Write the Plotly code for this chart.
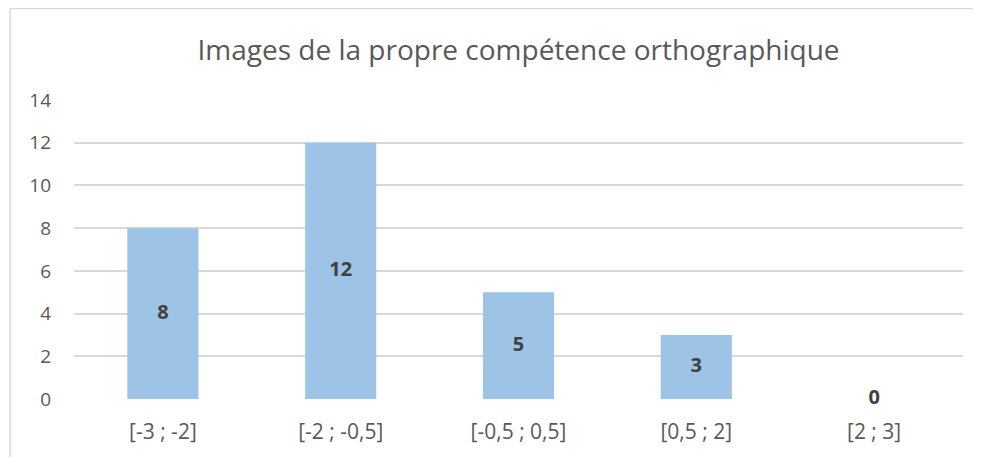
import plotly.graph_objects as go

# Données
categories = ["[-3 ; -2]", "[-2 ; -0,5]", "[-0,5 ; 0,5]", "[0,5 ; 2]", "[2 ; 3]"]
valeurs = [8, 12, 5, 3, 0]
y_ticks = [0, 2, 4, 6, 8, 10, 12, 14]

fig = go.Figure()

fig.add_trace(go.Bar(
    x=categories, y=valeurs,
    marker=dict(color="#9DC3E6", line=dict(width=0)),
    width=0.4, hoverinfo="skip"
))

# étiquettes au centre des barres
fig.add_trace(go.Scatter(
    x=categories, y=[v / 2 for v in valeurs],
    mode="text", text=[str(v) for v in valeurs],
    textfont=dict(family="Open Sans", size=20, color="#404040", weight="bold"),
    cliponaxis=False, hoverinfo="skip"
))

# la page html a une marge de 8px -> on décale tout
W, H = 981 - 8, 457 - 8
L, R, T, B = 66, 18, 92, 58
pw, ph = W - L - R, H - T - B

fig.update_layout(
    width=W, height=H,
    margin=dict(l=L, r=R, t=T, b=B),
    plot_bgcolor="white", paper_bgcolor="white",
    showlegend=False, bargap=0.6,
    font=dict(family="Open Sans", color="#595959"),
    title=dict(text="Images de la propre compétence orthographique",
               x=0.5, xref="paper", y=1 - 42 / H, yanchor="middle",
               font=dict(family="Open Sans", size=28, color="#595959")),
    xaxis=dict(showgrid=False, showline=False, ticks="",
               tickfont=dict(size=21, color="#595959"), ticklabelstandoff=18),
    yaxis=dict(range=[0, 14], tickvals=y_ticks, showgrid=True,
               gridcolor="#D9D9D9", gridwidth=1.5, zeroline=False,
               showline=False, tickfont=dict(size=19, color="#595959"),
               ticklabelstandoff=22),
    shapes=[
        dict(type="line", xref="paper", yref="paper",
             x0=(2 - L) / pw, x1=(2 - L) / pw, y0=(-B) / ph, y1=(H - 0.5 - B) / ph,
             line=dict(color="#D9D9D9", width=1.5)),
        dict(type="line", xref="paper", yref="paper",
             x0=(2 - L) / pw, x1=(W - L) / pw, y0=(H - 0.5 - B) / ph, y1=(H - 0.5 - B) / ph,
             line=dict(color="#D9D9D9", width=1.5)),
    ]
)

fig.write_html("out.html")
